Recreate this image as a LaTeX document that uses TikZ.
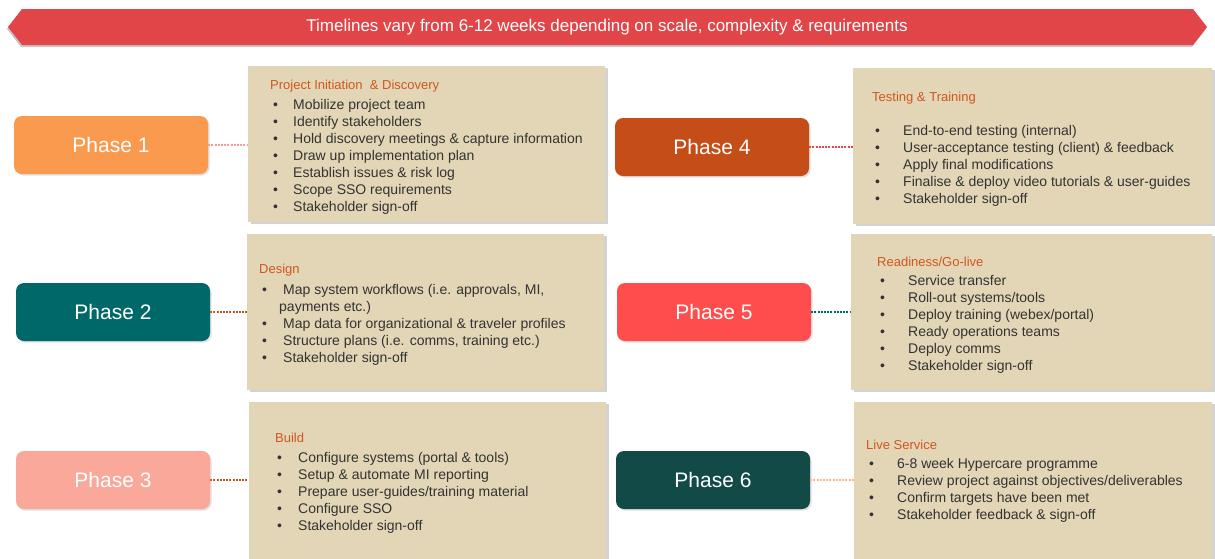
\documentclass[tikz,border=0pt]{standalone}
\usepackage{fontspec}
\setmainfont{Liberation Sans}
\usetikzlibrary{shadows,positioning}

\definecolor{bannerred}{HTML}{E14548}
\definecolor{boxbeige}{HTML}{E3D6B7}
\definecolor{headorange}{HTML}{D0561E}
\definecolor{bodygray}{HTML}{333333}
\definecolor{phaseA}{HTML}{F99A4F}
\definecolor{phaseB}{HTML}{006868}
\definecolor{phaseC}{HTML}{F9A899}
\definecolor{phaseD}{HTML}{C54D18}
\definecolor{phaseE}{HTML}{FF4C4C}
\definecolor{phaseF}{HTML}{124A48}

% bullet with a gap of #1 before the text
\newcommand{\itm}[2][20pt]{\makebox[#1][l]{\textbullet}#2}

\begin{document}
\begin{tikzpicture}[x=1pt, y=-1pt,
    phase/.style={rounded corners=8pt, minimum width=194pt, minimum height=58pt, text=white,
        font=\fontsize{21}{24}\selectfont,
        drop shadow={shadow xshift=1.5pt, shadow yshift=-1.5pt, opacity=.25}},
    panel/.style={fill=boxbeige, minimum width=357pt, minimum height=156pt, inner sep=0pt,
        drop shadow={shadow xshift=3pt, shadow yshift=-2pt, opacity=.35}},
    head/.style={anchor=west, inner sep=0pt, text=headorange, font=\fontsize{13}{15}\selectfont},
    items/.style={anchor=north west, inner sep=0pt, align=left, text=bodygray,
        font=\fontsize{14}{17}\selectfont},
    link/.style={line width=2pt, dash pattern=on 2pt off 1.2pt}
]
    \useasboundingbox (0,0) rectangle (1215,558);

    % banner across the top
    \fill[bannerred, drop shadow={shadow xshift=-1pt, shadow yshift=-2pt, opacity=.45}]
        (8,27) -- (22,9) -- (1193,9) -- (1207,27) -- (1193,45) -- (22,45) -- cycle;
    \node[text=white, font=\fontsize{17}{19}\selectfont] (banner) at (607,27)
        {Timelines vary from 6-12 weeks depending on scale, complexity \& requirements};

    % phases
    \node[phase, fill=phaseA] (p1) at (111,145) {Phase 1};
    \node[phase, fill=phaseB] (p2) at (113,312) {Phase 2};
    \node[phase, fill=phaseC] (p3) at (113,480) {Phase 3};
    \node[phase, fill=phaseD] (p4) at (712,147) {Phase 4};
    \node[phase, fill=phaseE] (p5) at (714,312) {Phase 5};
    \node[phase, fill=phaseF] (p6) at (713,480) {Phase 6};

    % panels
    \node[panel] (b1) at (426.5,144) {};
    \node[panel] (b2) at (425.5,312) {};
    \node[panel, minimum height=162pt] (b3) at (427,483) {};
    \node[panel, minimum width=359pt] (b4) at (1032.5,146) {};
    \node[panel, minimum width=361pt] (b5) at (1031.5,312) {};
    \node[panel, minimum width=358pt, minimum height=162pt] (b6) at (1033,483) {};

    \draw[link, color=red!40] (p1.east) -- (p1.east -| b1.west);
    \draw[link, color=headorange] (p2.east) -- (p2.east -| b2.west);
    \draw[link, color=headorange] (p3.east) -- (p3.east -| b3.west);
    \draw[link, color=bannerred] (p4.east) -- (p4.east -| b4.west);
    \draw[link, color=phaseB] (p5.east) -- (p5.east -| b5.west);
    \draw[link, color=phaseA!70] (p6.east) -- (p6.east -| b6.west);

    % panel texts
    \node[head] (t1) at (270,86) {Project Initiation~ \&~Discovery};
    \node[items] (l1) at (273,99) {\itm{Mobilize project team}\\
        \itm{Identify stakeholders}\\
        \itm{Hold discovery meetings \& capture information}\\
        \itm{Draw up implementation plan}\\
        \itm{Establish issues \& risk log}\\
        \itm{Scope SSO requirements}\\
        \itm{Stakeholder sign-off}};

    \node[head] (t2) at (259,270) {Design};
    \node[items] (l2) at (262,284) {\itm[21pt]{Map system workflows (i.e. approvals, MI,}\\
        \hspace*{17pt}payments etc.)\\
        \itm[21pt]{Map data for organizational \& traveler profiles}\\
        \itm[21pt]{Structure plans (i.e. comms, training etc.)}\\
        \itm[21pt]{Stakeholder sign-off}};

    \node[head] (t3) at (275,438) {Build};
    \node[items] (l3) at (277,452) {\itm[21pt]{Configure systems (portal \& tools)}\\
        \itm[21pt]{Setup \& automate MI reporting}\\
        \itm[21pt]{Prepare user-guides/training material}\\
        \itm[21pt]{Configure SSO}\\
        \itm[21pt]{Stakeholder sign-off}};

    \node[head] (t4) at (872,98) {Testing \& Training};
    \node[items] (l4) at (875,125) {\itm[28pt]{End-to-end testing (internal)}\\
        \itm[28pt]{User-acceptance testing (client) \& feedback}\\
        \itm[28pt]{Apply final modifications}\\
        \itm[28pt]{Finalise \& deploy video tutorials \& user-guides}\\
        \itm[28pt]{Stakeholder sign-off}};

    \node[head] (t5) at (877,262) {Readiness/Go-live};
    \node[items] (l5) at (880,275) {\itm[28pt]{Service transfer}\\
        \itm[28pt]{Roll-out systems/tools}\\
        \itm[28pt]{Deploy training (webex/portal)}\\
        \itm[28pt]{Ready operations teams}\\
        \itm[28pt]{Deploy comms}\\
        \itm[28pt]{Stakeholder sign-off}};

    \node[head] (t6) at (866,445) {Live Service};
    \node[items] (l6) at (869,458) {\itm[28pt]{6-8 week Hypercare programme}\\
        \itm[28pt]{Review project against objectives/deliverables}\\
        \itm[28pt]{Confirm targets have been met}\\
        \itm[28pt]{Stakeholder feedback \& sign-off}};
\end{tikzpicture}
\end{document}
